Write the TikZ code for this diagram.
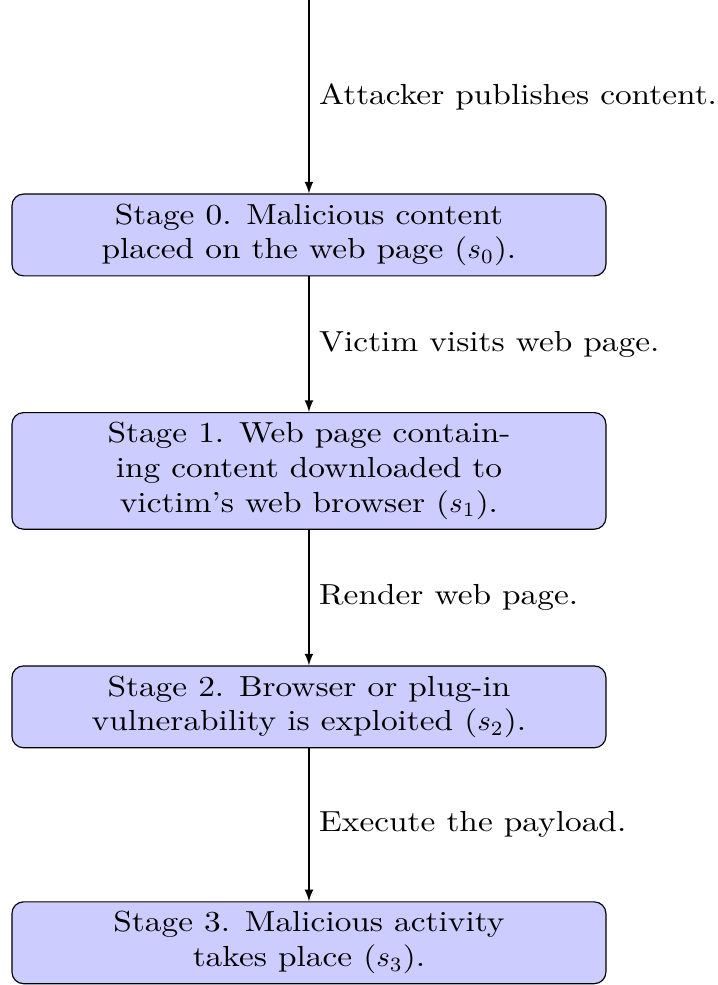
\documentclass[tikz,border=0pt]{standalone}
\usepackage{fontspec}
\setmainfont{Latin Modern Roman}[FakeStretch=1.15]
\usetikzlibrary{positioning}

\begin{document}
\begin{tikzpicture}[
		stagebox/.style={draw, fill=blue!20, rounded corners, minimum width=7.2cm, align=center},
		node distance=2.86cm, on grid]
		
		% Cadre fixe de l'image
		\useasboundingbox (0,0) rectangle (8.70,-11.94);
		
		% Point de départ de la première flèche
		\coordinate (top) at (3.745,0);
		
		% Les étapes
		\node[stagebox] (s0) at (3.745,-2.848) {Stage 0. Malicious content\\placed on the web page ($s_0$).};
		\node[stagebox, below=of s0] (s1) {Stage 1. Web page contain-\\ing content downloaded to\\victim's web browser ($s_1$).};
		\node[stagebox, below=of s1] (s2) {Stage 2. Browser or plug-in\\vulnerability is exploited ($s_2$).};
		\node[stagebox, below=of s2] (s3) {Stage 3. Malicious activity\\takes place ($s_3$).};
		
		% Flèches avec leurs étiquettes
		\draw[-latex] (top) -- (s0) node[midway, right] (a0) {Attacker publishes content.};
		\draw[-latex] (s0) -- (s1) node[midway, right] (a1) {Victim visits web page.};
		\draw[-latex] (s1) -- (s2) node[midway, right] (a2) {Render web page.};
		\draw[-latex] (s2) -- (s3) node[midway, right] (a3) {Execute the payload.};
		
	\end{tikzpicture}
\end{document}
